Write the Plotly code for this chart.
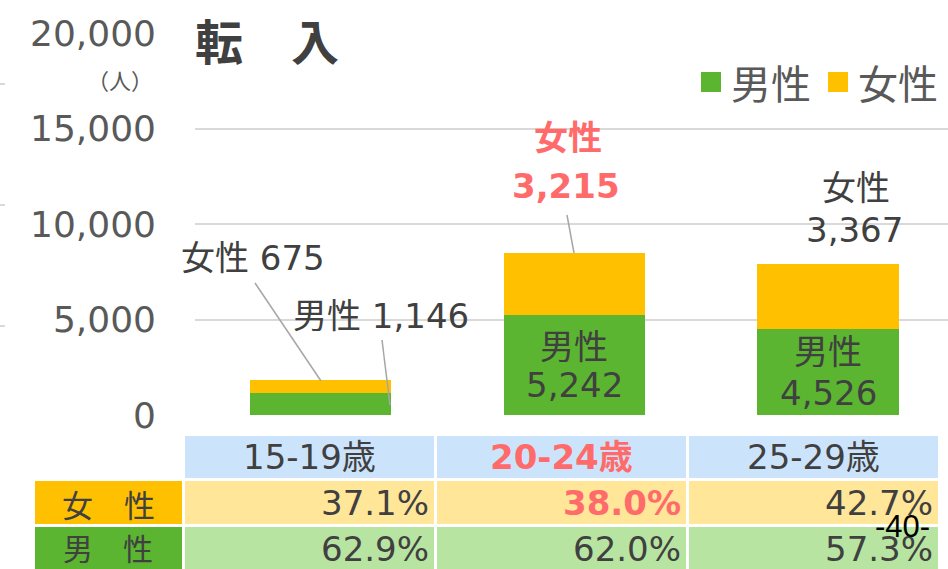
import plotly.graph_objects as go

# ---- data ----
age_groups = ["15-19歳", "20-24歳", "25-29歳"]
male = [1146, 5242, 4526]
female = [675, 3215, 3367]
female_pct = ["37.1%", "38.0%", "42.7%"]
male_pct = ["62.9%", "62.0%", "57.3%"]
y_ticks = [0, 5000, 10000, 15000, 20000]

# ---- styling ----
W, H = 948, 569
L, R, T, B = 195, 948, 33, 415          # plot area in pixels
GREEN = "#5bb531"
YELLOW = "#ffc000"
LIGHT_GREEN = "#b8e4a2"
LIGHT_YELLOW = "#ffe699"
LIGHT_BLUE = "#cce4fb"
TEXT = "#404040"
AXIS_TEXT = "#595959"
RED = "#ff6b6b"
GRID = "#d9d9d9"
FONT = "DejaVu Sans, Noto Sans CJK JP, sans-serif"
CJK = "Noto Sans CJK JP, sans-serif"


def px(x):
    return (x - L) / (R - L)


def py(y):
    return (B - y) / (B - T)


x_pos = [0, 1, 2]
fig = go.Figure()
fig.add_trace(go.Bar(x=x_pos, y=male, name="男性", width=0.556,
                     marker=dict(color=GREEN, line=dict(width=0)), showlegend=False))
fig.add_trace(go.Bar(x=x_pos, y=female, name="女性", width=0.556,
                     marker=dict(color=YELLOW, line=dict(width=0)), showlegend=False))

shapes = []
ann = []


def text(x, y, s, size=34, color=TEXT, xanchor="center", bold=False, font=FONT):
    if bold:
        s = "<b>" + s + "</b>"
    ann.append(dict(x=px(x), y=py(y), xref="paper", yref="paper", text=s,
                    showarrow=False, xanchor=xanchor, yanchor="middle",
                    font=dict(family=font, size=size, color=color)))


def line(x0, y0, x1, y1, color="#a6a6a6", width=1.5):
    shapes.append(dict(type="line", xref="paper", yref="paper",
                       x0=px(x0), y0=py(y0), x1=px(x1), y1=py(y1),
                       line=dict(color=color, width=width)))


def rect(x0, y0, x1, y1, color):
    shapes.append(dict(type="rect", xref="paper", yref="paper",
                       x0=px(x0), y0=py(y0), x1=px(x1), y1=py(y1),
                       fillcolor=color, line=dict(width=0), layer="below"))


def fmt(v):
    return f"{v:,}"


# title and unit
text(193, 39, "転　入", size=48, color=TEXT, xanchor="left", bold=True, font=CJK)
text(155, 79, "（人）", size=22, color=AXIS_TEXT, xanchor="right", font=CJK)

# legend
rect(701, 72, 721, 92, GREEN)
text(729, 82, "男性", size=40, color=AXIS_TEXT, xanchor="left", font=CJK)
rect(828, 72, 848, 92, YELLOW)
text(856, 82, "女性", size=40, color=AXIS_TEXT, xanchor="left", font=CJK)

# bar labels: 15-19 with leader lines
text(253, 258, f"女性 {fmt(female[0])}")
line(255, 283, 321, 381)
text(381, 316, f"男性 {fmt(male[0])}")
line(382, 340, 390, 405)

# 20-24
text(568, 138, "女性", color=RED, bold=True)
text(566, 186, fmt(female[1]), color=RED, bold=True)
line(567, 215, 574, 253)
text(574, 347, "男性")
text(574, 385, fmt(male[1]))

# 25-29
text(856, 188, "女性")
text(854, 230, fmt(female[2]))
text(828, 352, "男性")
text(828, 393, fmt(male[2]))

# table below the chart
cols = [(185, 434), (437, 686), (689, 938)]
for i, (c0, c1) in enumerate(cols):
    rect(c0, 436, c1, 478, LIGHT_BLUE)
    rect(c0, 481, c1, 524, LIGHT_YELLOW)
    rect(c0, 527, c1, 575, LIGHT_GREEN)
    highlight = i == 1
    col = RED if highlight else TEXT
    text((c0 + c1) / 2, 457, age_groups[i], color=col, bold=highlight)
    text(c1 - 3, 503, female_pct[i], color=col, bold=highlight, xanchor="right")
    text(c1 - 3, 549, male_pct[i], color=TEXT, xanchor="right")

rect(35, 481, 182, 524, YELLOW)
rect(35, 527, 182, 575, GREEN)
text(108, 503, "女　性", size=31, font=CJK)
text(108, 547, "男　性", size=30, font=CJK)

# stray gridline ends at the left page edge
for yy in (84, 205, 326):
    line(0, yy, 5, yy, color=GRID, width=2)

# page number
text(902, 526, "-40-", size=31, color="#000000",
     font="Liberation Sans Narrow, Liberation Sans, sans-serif")

fig.update_layout(
    barmode="stack",
    width=W, height=H, autosize=False,
    margin=dict(l=L, r=W - R, t=T, b=H - B, pad=0),
    plot_bgcolor="white", paper_bgcolor="white",
    shapes=shapes, annotations=ann,
    bargap=0,
    xaxis=dict(range=[-0.4946, 2.4729], showticklabels=False, showgrid=False,
               zeroline=False, showline=False, ticks=""),
    yaxis=dict(range=[0, 20000], tickvals=y_ticks, tickformat=",",
               showgrid=True, gridcolor=GRID, gridwidth=2,
               zeroline=False, showline=False, ticks="",
               ticklabelstandoff=38,
               tickfont=dict(family=FONT, size=36, color=AXIS_TEXT)),
    font=dict(family=FONT),
)

fig.write_html("out.html")
